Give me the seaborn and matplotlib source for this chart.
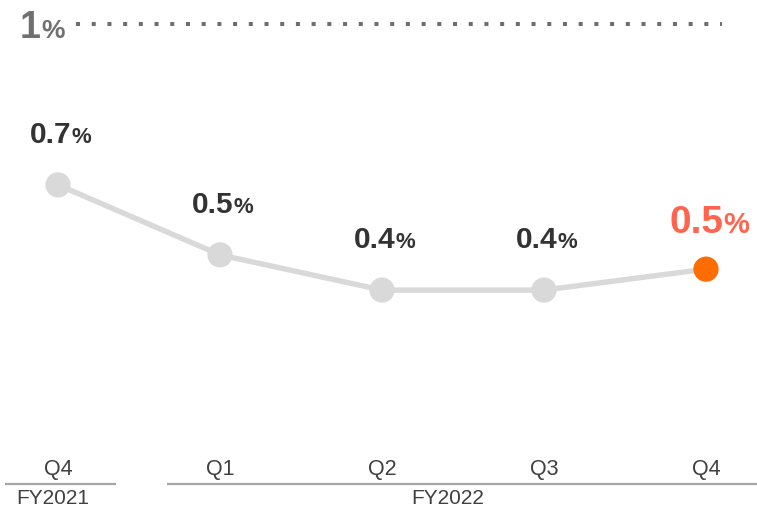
import matplotlib
matplotlib.use("Agg")
import matplotlib.pyplot as plt
import seaborn as sns
import pandas as pd
import numpy as np

# ---- data ----
quarters = ["Q4", "Q1", "Q2", "Q3", "Q4"]
years = ["FY2021", "FY2022", "FY2022", "FY2022", "FY2022"]
values = [0.662, 0.515, 0.441, 0.441, 0.485]
value_labels = ["0.7", "0.5", "0.4", "0.4", "0.5"]
highlight = [False, False, False, False, True]
ref_value = 1.0
ref_label = "1"

sns.set_theme(style="white")
plt.rcParams["font.family"] = ["Liberation Sans", "DejaVu Sans"]

df = pd.DataFrame({"idx": np.arange(len(values)), "value": values,
                   "quarter": quarters, "year": years, "hl": highlight})

W, H, DPI = 757, 509, 100
fig = plt.figure(figsize=(W / DPI, H / DPI), dpi=DPI)
ax = fig.add_axes([0, 0, 1, 1])

# pixel geometry -> data limits
px_per_x = 162.0
x0_px = 58.0
zero_px, one_px = 500.0, 24.0
S = zero_px - one_px

# line
sns.lineplot(data=df, x="idx", y="value", ax=ax, color="#D9D9D9",
             linewidth=3.9, zorder=2, legend=False)
# markers
sns.scatterplot(data=df[~df.hl], x="idx", y="value", ax=ax, color="#D9D9D9",
                s=330, edgecolor="none", zorder=3, legend=False)
sns.scatterplot(data=df[df.hl], x="idx", y="value", ax=ax, color="#FF6D00",
                s=330, edgecolor="none", zorder=4, legend=False)
ax.set_xlim(-x0_px / px_per_x, len(values) - 1 + (W - 706) / px_per_x)
ax.set_ylim((zero_px - H) / S, zero_px / S)
ax.set_axis_off()

renderer = fig.canvas.get_renderer()


def measure(txt, size, weight="bold"):
    t = fig.text(0, 0, txt, fontsize=size, fontweight=weight)
    w = t.get_window_extent(renderer).width
    t.remove()
    return w


# value labels
for i, (v, lab, hl) in enumerate(zip(values, value_labels, highlight)):
    if hl:
        s1, s2, col, dy = 28, 21, "#FF6450", 36
    else:
        s1, s2, col, dy = 21.5, 16, "#333333", 42
    w1 = measure(lab, s1)
    w2 = measure("%", s2)
    start = -(w1 + w2) / 2 + 3
    ax.annotate(lab, xy=(i, v), xytext=(start, dy), textcoords="offset pixels",
                ha="left", va="baseline", fontsize=s1, fontweight="bold",
                color=col, zorder=5)
    ax.annotate("%", xy=(i, v), xytext=(start + w1, dy), textcoords="offset pixels",
                ha="left", va="baseline", fontsize=s2, fontweight="bold",
                color=col, zorder=5)

# reference line at 1%
ax.plot([(76 - x0_px) / px_per_x, (722 - x0_px) / px_per_x], [ref_value, ref_value],
        color="#6E6E6E", linewidth=2.9, dashes=(1, 2.9), dash_capstyle="butt",
        solid_capstyle="butt", zorder=1)
w1 = measure(ref_label, 27)
ax.annotate(ref_label, xy=(ax.get_xlim()[0], ref_value), xytext=(20, -14),
            textcoords="offset pixels", ha="left", va="baseline",
            fontsize=27, fontweight="bold", color="#707070")
ax.annotate("%", xy=(ax.get_xlim()[0], ref_value), xytext=(20 + w1, -14),
            textcoords="offset pixels", ha="left", va="baseline",
            fontsize=19, fontweight="bold", color="#707070")

# category axis
trans = ax.get_xaxis_transform()
fy_tick = 1 - 470 / H
fy_line = 1 - 484 / H
fy_year = 1 - 498 / H
for i, q in enumerate(quarters):
    ax.text(i, fy_tick, q, transform=trans,
            ha="center", va="center", fontsize=15.5, color="#404040")

groups = []
for i, y in enumerate(years):
    if groups and groups[-1][0] == y:
        groups[-1][2] = i
    else:
        groups.append([y, i, i])
for name, a, b in groups:
    ax.plot([a - 0.33, b + 0.36], [fy_line, fy_line], transform=trans,
            color="#A6A6A6", linewidth=1.6, solid_capstyle="butt", clip_on=True)
    ax.text((a + b) / 2 - 0.035 - 0.02 * (b - a), fy_year, name, transform=trans,
            ha="center", va="center", fontsize=15, color="#404040")

fig.savefig("out.png", dpi=DPI)
